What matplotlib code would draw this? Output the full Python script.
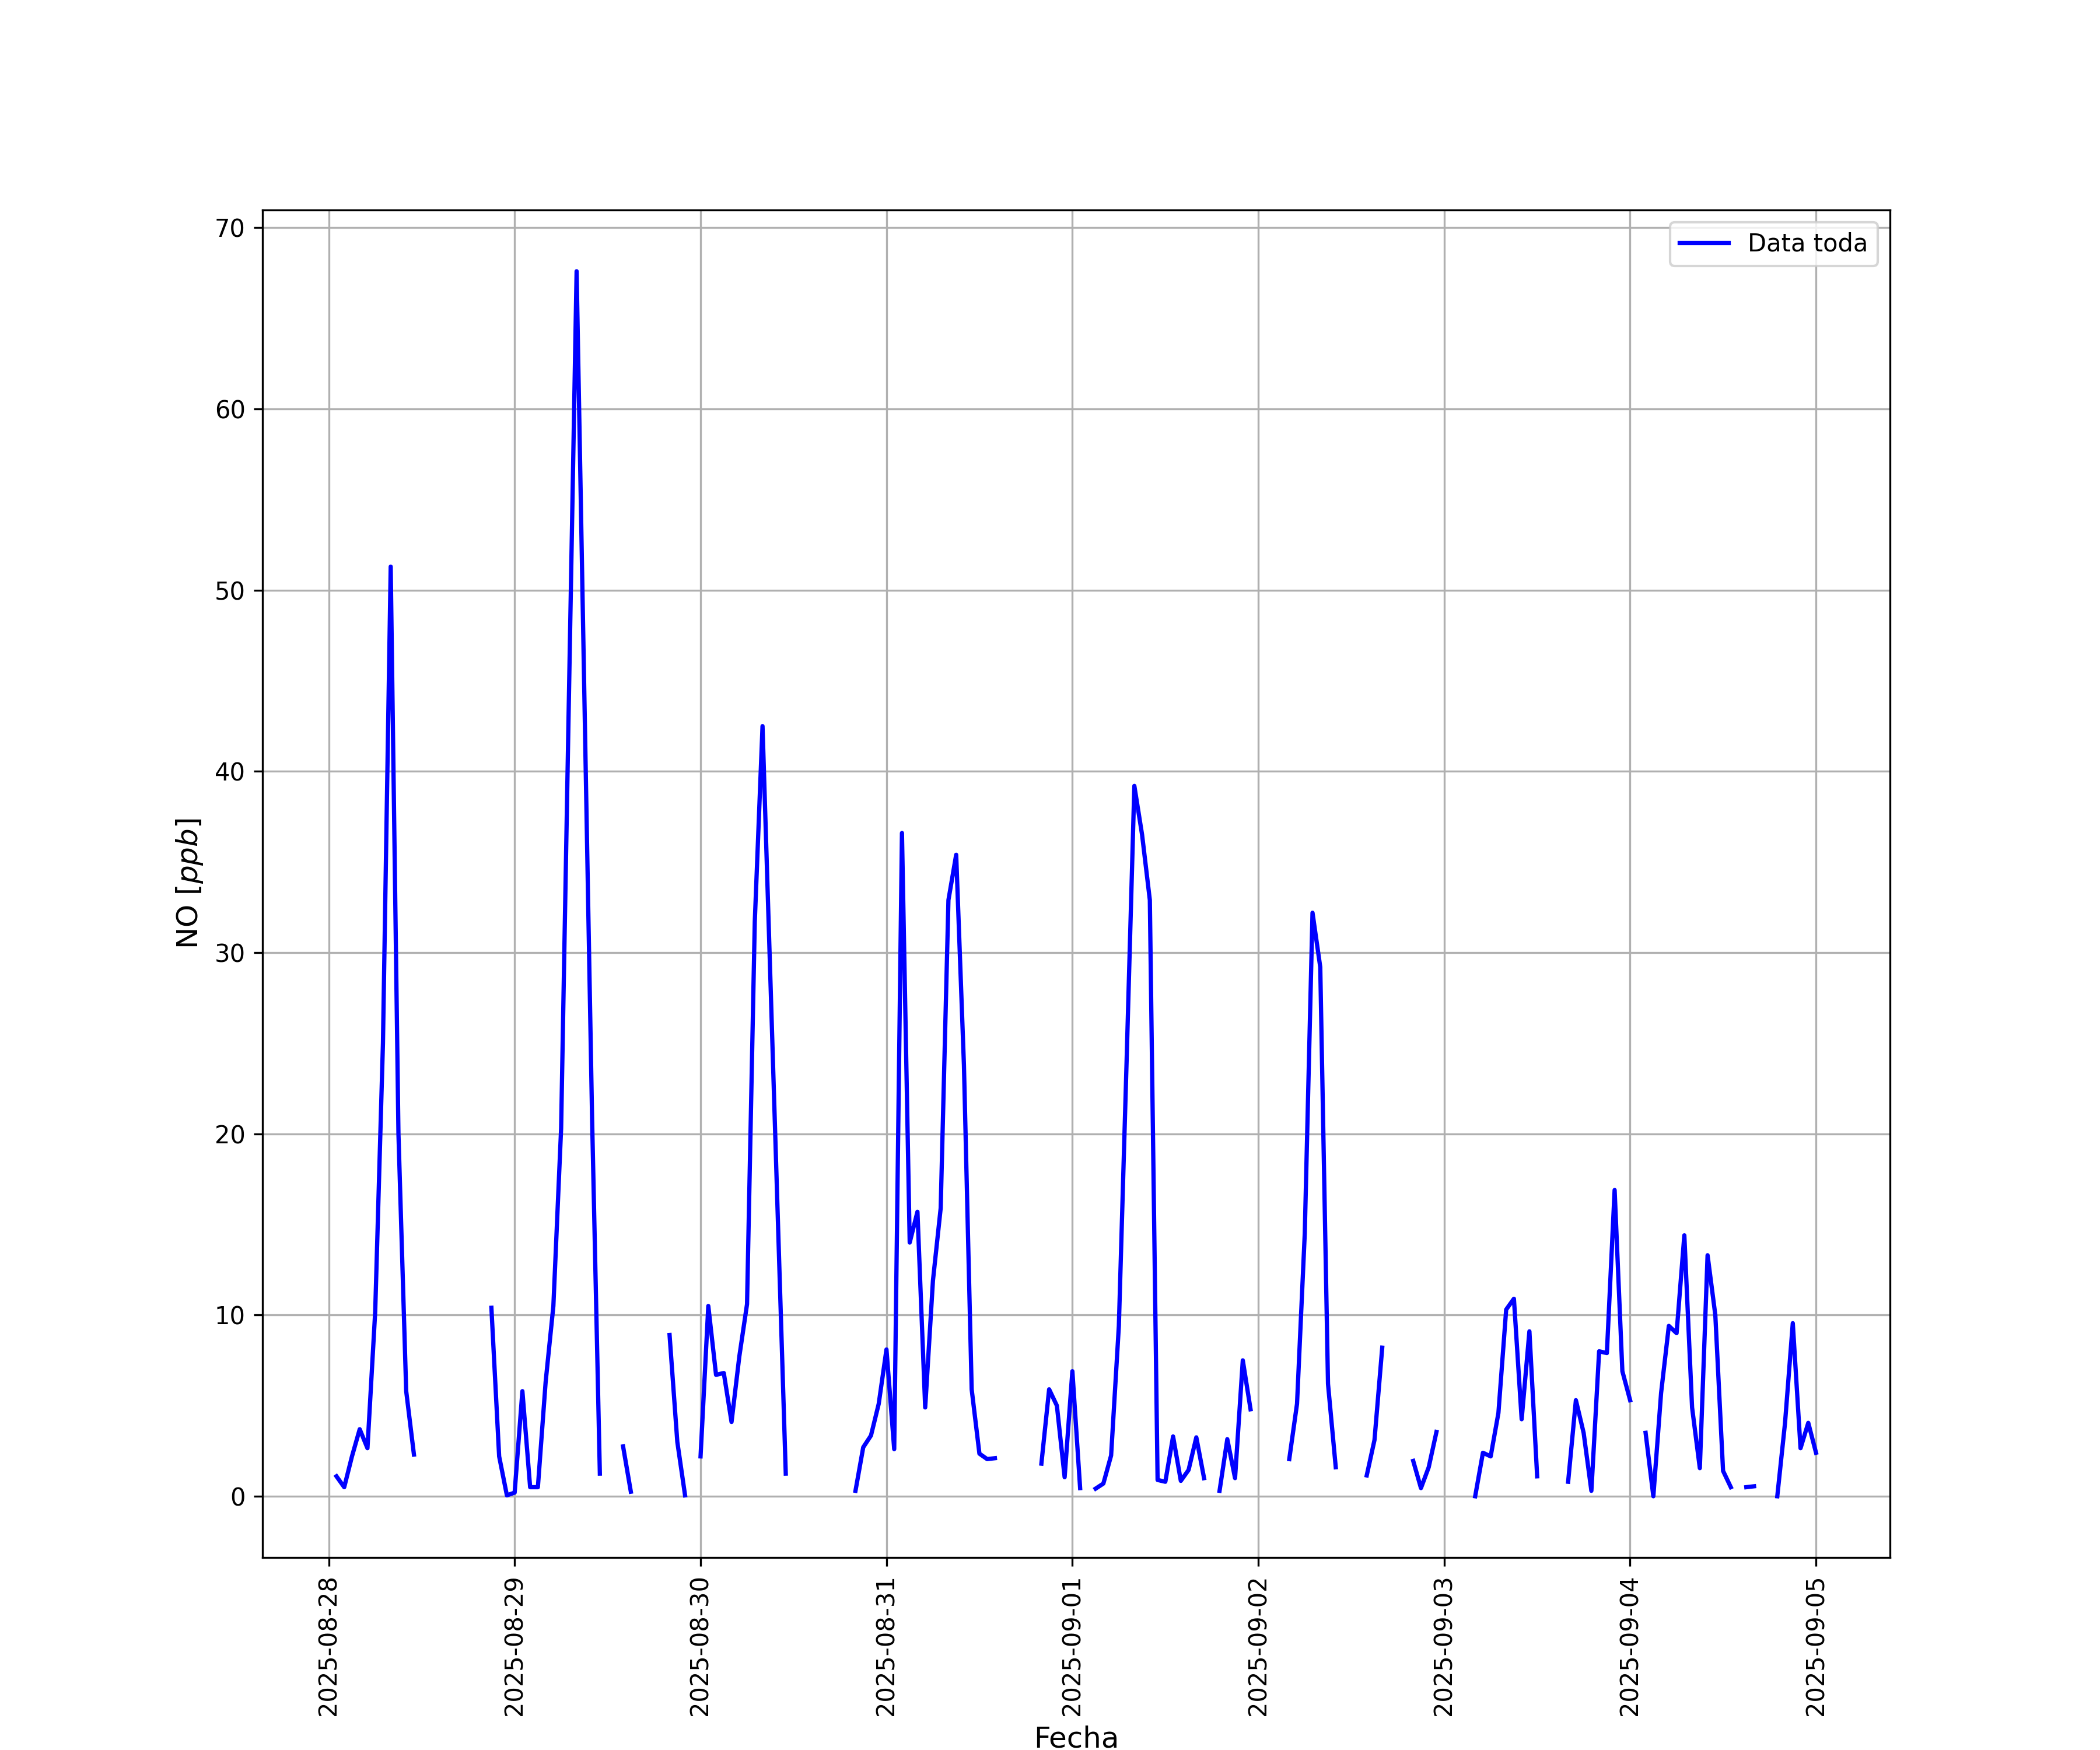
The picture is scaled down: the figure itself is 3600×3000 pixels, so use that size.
import numpy as np
import matplotlib as mpl
mpl.use("Agg")
import matplotlib.pyplot as plt

# hourly NO readings starting 2025-08-28 00:00 (nan = missing)
nan = np.nan
start = np.datetime64("2025-08-28T00:00")

no_ppb = [
    nan, 1.1, 0.5, 2.2, 3.7, 2.65, 10.2, 25.0, 51.3, 20.0, 5.8, 2.3,          # 0-11
    nan, nan, nan, nan, nan, nan, nan, nan, nan, 10.4, 2.2, 0.05,            # 12-23
    0.2, 5.8, 0.5, 0.5, 6.3, 10.5, 20.3, 44.0, 67.6, 44.2, 20.8, 1.25,       # 24-35
    nan, nan, 2.75, 0.25, nan, nan, nan, nan, 8.9, 3.0, 0.05, nan,           # 36-47
    2.2, 10.5, 6.7, 6.8, 4.1, 7.7, 10.6, 31.7, 42.5, 28.7, 15.0, 1.25,       # 48-59
    nan, nan, nan, nan, nan, nan, nan, nan, 0.3, 2.7, 3.35, 5.1,             # 60-71
    8.1, 2.6, 36.6, 14.0, 15.7, 4.9, 11.9, 15.9, 32.9, 35.4, 23.8, 5.9,      # 72-83
    2.35, 2.05, 2.1, nan, nan, nan, nan, nan, 1.8, 5.9, 5.0, 1.05,           # 84-95
    6.9, 0.45, nan, 0.42, 0.7, 2.25, 9.4, 24.0, 39.2, 36.5, 32.9, 0.9,       # 96-107
    0.8, 3.3, 0.85, 1.45, 3.25, 1.0, nan, 0.3, 3.15, 1.0, 7.5, 4.8,          # 108-119
    nan, nan, nan, nan, 2.05, 5.1, 14.5, 32.2, 29.2, 6.2, 1.6, nan,          # 120-131
    nan, nan, 1.15, 3.1, 8.2, nan, nan, nan, 1.95, 0.45, 1.6, 3.55,          # 132-143
    nan, nan, nan, nan, 0.0, 2.4, 2.2, 4.6, 10.3, 10.9, 4.25, 9.1,           # 144-155
    1.1, nan, nan, nan, 0.8, 5.3, 3.5, 0.3, 8.0, 7.9, 16.9, 6.9,             # 156-167
    5.3, nan, 3.5, 0.0, 5.7, 9.4, 9.0, 14.4, 4.9, 1.55, 13.3, 10.0,          # 168-179
    1.4, 0.5, nan, 0.5, 0.55, nan, nan, 0.0, 4.05, 9.55, 2.65, 4.05,         # 180-191
    2.4,                                                                     # 192
]

fechas = start + np.arange(len(no_ppb)) * np.timedelta64(1, "h")

fig, ax = plt.subplots(figsize=(12, 10), dpi=300)
ax.plot(fechas, no_ppb, color="b", lw=1.75, label="Data toda")
ax.set_xlabel("Fecha", fontsize=12)
ax.set_ylabel("NO [$ppb$]", fontsize=12)
ax.grid(True)
ax.legend(loc="upper right")
plt.setp(ax.get_xticklabels(), rotation=90)

fig.savefig("out.png", dpi=300)
